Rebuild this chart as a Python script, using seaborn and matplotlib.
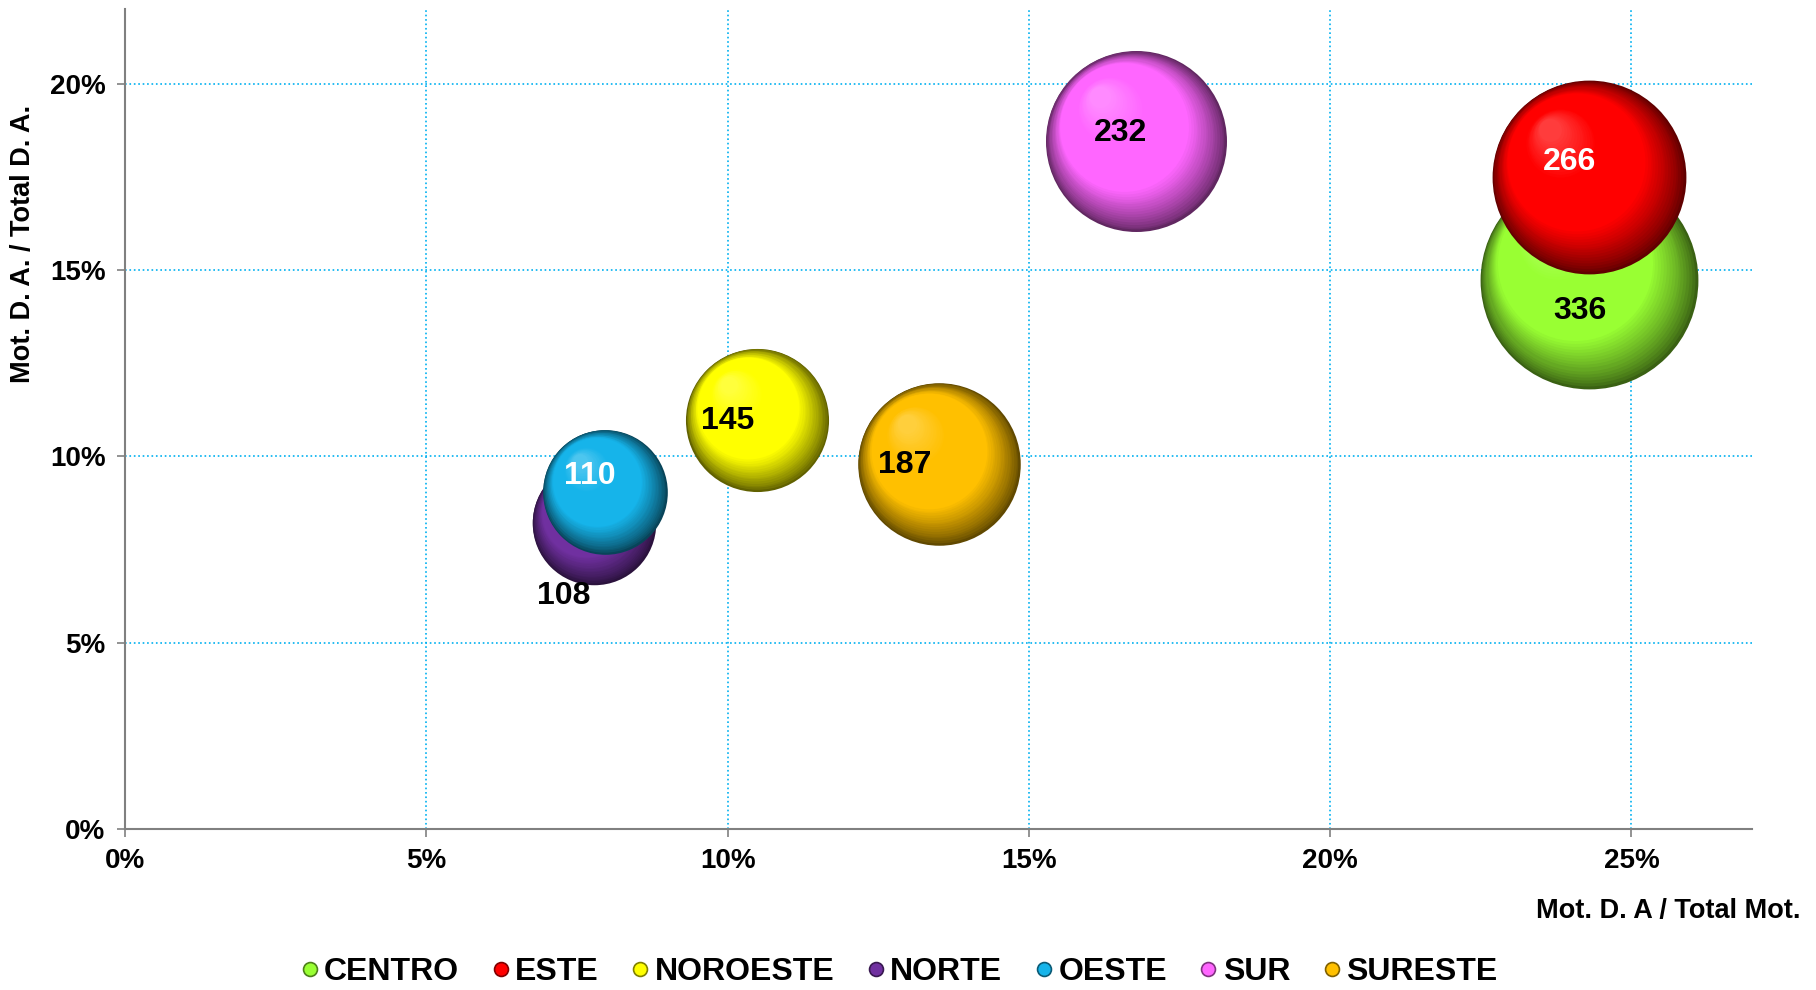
import matplotlib
matplotlib.use('Agg')

import numpy as np
import pandas as pd
import matplotlib.pyplot as plt
import matplotlib.transforms as mtransforms
from matplotlib.colors import to_rgb
from matplotlib.lines import Line2D
from matplotlib.ticker import PercentFormatter
import seaborn as sns

# Data
regions = ['CENTRO', 'ESTE', 'NOROESTE', 'NORTE', 'OESTE', 'SUR', 'SURESTE']
mot_share = [0.2429, 0.2429, 0.1049, 0.0778, 0.0796, 0.1678, 0.1351]   # Mot. D. A / Total Mot.
da_share = [0.1473, 0.1749, 0.1098, 0.0822, 0.0905, 0.1845, 0.0980]    # Mot. D. A. / Total D. A.
counts = [336, 266, 145, 108, 110, 232, 187]

df = pd.DataFrame({'region': regions, 'x': mot_share, 'y': da_share, 'n': counts})

# Styling
colors = {'CENTRO': '#99FF33', 'ESTE': '#FF0000', 'NOROESTE': '#FFFF00', 'NORTE': '#7030A0',
          'OESTE': '#16B4EA', 'SUR': '#FF66FF', 'SURESTE': '#FFC000'}
label_colors = {'CENTRO': 'black', 'ESTE': 'white', 'NOROESTE': 'black', 'NORTE': 'black',
                'OESTE': 'white', 'SUR': 'black', 'SURESTE': 'black'}
label_offsets = {'CENTRO': (-6, -22), 'ESTE': (-14, 11), 'NOROESTE': (-21, -1), 'NORTE': (-22, -53),
                 'OESTE': (-11, 11), 'SUR': (-11, 6), 'SURESTE': (-25, -1)}
size_k = 73.2  # marker area (pt^2) per unit

sns.set_theme(style='white')
plt.rcParams['font.family'] = ['Liberation Sans', 'DejaVu Sans']
plt.rcParams['font.weight'] = 'bold'

fig = plt.figure(figsize=(18.16, 9.9), dpi=100)
ax = fig.add_axes([125 / 1816, 1 - 829 / 990, (1752 - 125) / 1816, (829 - 9) / 990])
ax.set_xlim(0, 0.27)
ax.set_ylim(0, 0.22)


def mix(c1, c2, t):
    a, b = np.array(to_rgb(c1)), np.array(to_rgb(c2))
    return tuple(a + (b - a) * t)


def sphere_color(base, t):
    dark = mix(base, 'black', 0.62)
    light = mix(base, 'white', 0.25)
    if t < 0.32:
        return mix(dark, base, (t / 0.32) ** 0.8)
    if t < 0.7:
        return to_rgb(base)
    return mix(base, light, (t - 0.7) / 0.3)


n_layers = 50
for _, row in df.iterrows():
    base = colors[row.region]
    s = size_k * row.n
    r_pt = np.sqrt(s) / 2
    sub = df[df.region == row.region]
    # base disc (shadowed edge)
    sns.scatterplot(data=sub, x='x', y='y', s=s, color=sphere_color(base, 0),
                    linewidth=0, legend=False, ax=ax, zorder=3)
    for i in range(1, n_layers):
        t = i / n_layers
        f = 1 - t * 0.9
        off = mtransforms.offset_copy(ax.transData, fig=fig,
                                      x=-0.45 * r_pt * (1 - f), y=0.55 * r_pt * (1 - f), units='points')
        ax.scatter(row.x, row.y, s=s * f ** 2, color=sphere_color(base, t), linewidths=0,
                   transform=off, zorder=3)

for _, row in df.iterrows():
    ax.annotate(str(row.n), (row.x, row.y), xytext=label_offsets[row.region],
                textcoords='offset points', ha='center', va='center',
                fontsize=23, fontweight='bold', color=label_colors[row.region], zorder=5)

# axes styling
ax.set_xticks(np.arange(0, 0.26, 0.05))
ax.set_yticks(np.arange(0, 0.21, 0.05))
ax.xaxis.set_major_formatter(PercentFormatter(1, decimals=0))
ax.yaxis.set_major_formatter(PercentFormatter(1, decimals=0))
ax.grid(True, color='#00B0F0', linestyle=':', linewidth=1.2)
ax.set_axisbelow(True)
for side in ['top', 'right']:
    ax.spines[side].set_visible(False)
for side in ['left', 'bottom']:
    ax.spines[side].set_color('#808080')
    ax.spines[side].set_linewidth(1.5)
ax.tick_params(axis='both', which='major', direction='out', length=6, width=1.2,
               color='#808080', labelsize=20, labelcolor='black', pad=8, bottom=True, left=True)
for lab in ax.get_xticklabels() + ax.get_yticklabels():
    lab.set_fontweight('bold')

ax.set_xlabel('')
ax.set_ylabel('')
fig.text(23 / 1816, 1 - 244 / 990, 'Mot. D. A. / Total D. A.', rotation=90, ha='center', va='center',
         fontsize=19.5, fontweight='bold', color='black')
fig.text(1801 / 1816, 1 - 911 / 990, 'Mot. D. A / Total Mot.', ha='right', va='center',
         fontsize=19.5, fontweight='bold', color='black')

handles = [Line2D([0], [0], marker='o', linestyle='', markersize=10,
                  markerfacecolor=colors[r], markeredgecolor=mix(colors[r], 'black', 0.5),
                  markeredgewidth=1.2) for r in regions]
fig.legend(handles, regions, loc='center', bbox_to_anchor=(0.494, 1 - 972 / 990), ncol=7,
           frameon=False, prop={'size': 23, 'weight': 'bold'}, handletextpad=0.05,
           columnspacing=0.9, handlelength=0.8, labelcolor='black')

fig.savefig('out.png', dpi=100)
